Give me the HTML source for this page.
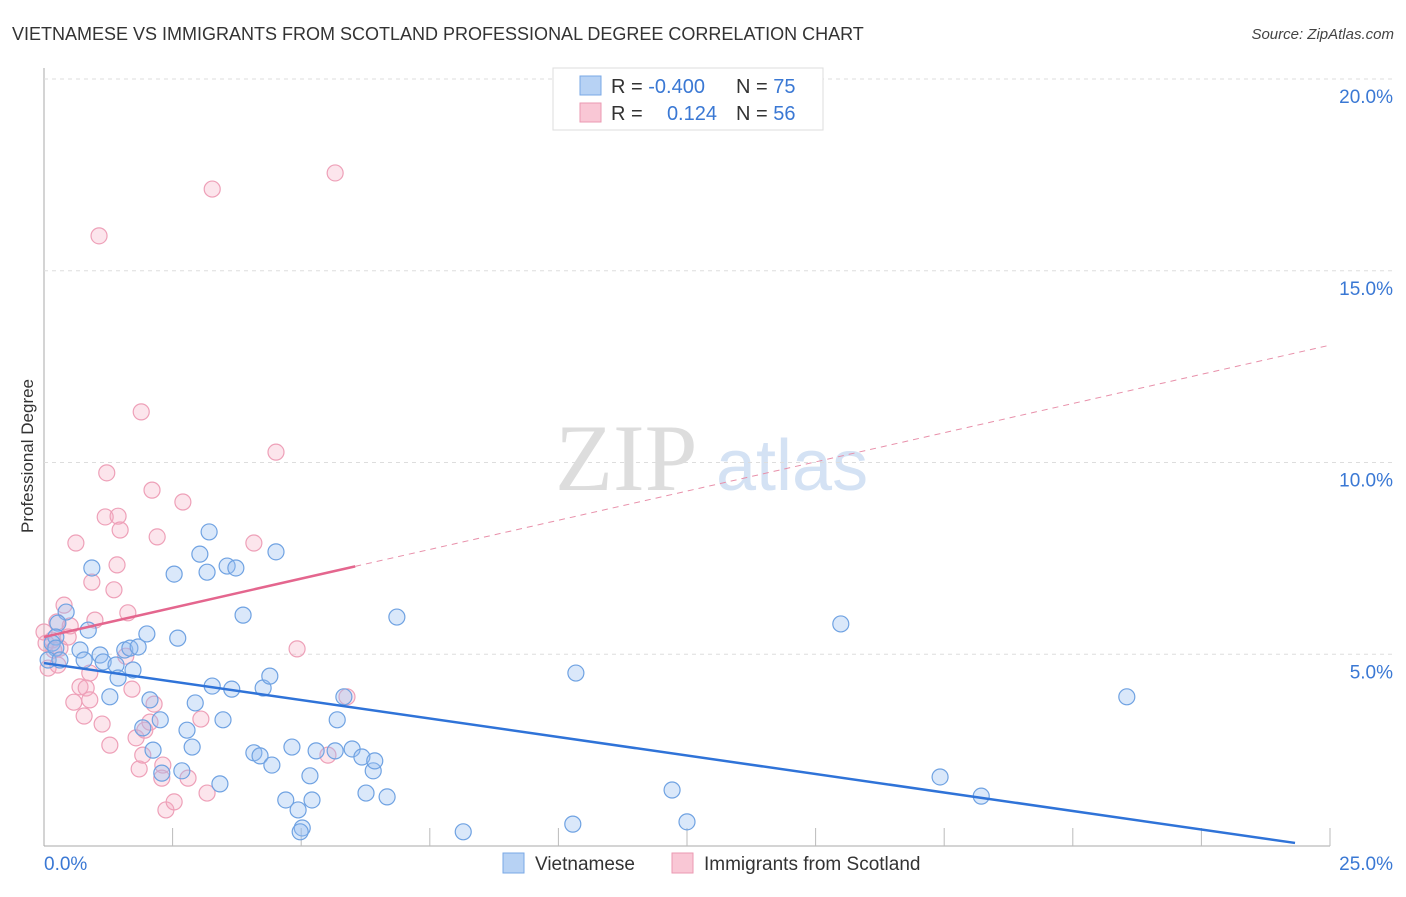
<!DOCTYPE html>
<html><head><meta charset="utf-8"><style>
body{margin:0;background:#fff;font-family:"Liberation Sans",sans-serif}
</style></head><body>
<svg id="c" width="1406" height="892" xmlns="http://www.w3.org/2000/svg" font-family="Liberation Sans, sans-serif">
<text x="12" y="40" font-size="18" fill="#333">VIETNAMESE VS IMMIGRANTS FROM SCOTLAND PROFESSIONAL DEGREE CORRELATION CHART</text>
<text x="1394" y="39" font-size="15" fill="#444" text-anchor="end" font-style="italic">Source: ZipAtlas.com</text>
<text transform="translate(33,456) rotate(-90)" font-size="17" fill="#333" text-anchor="middle">Professional Degree</text>
<g><text x="555" y="490" font-size="95" fill="#ddd" font-family="Liberation Serif, serif">ZIP</text><text x="716" y="490" font-size="72" fill="#d4e2f4">atlas</text></g>
<g id="grid"></g><g id="marks"></g>
<g>
<rect x="553" y="68" width="270" height="62" fill="#fff" stroke="#ddd"/>
<rect x="580" y="76" width="21" height="19" fill="#b7d2f4" stroke="#7aa8e6"/>
<rect x="580" y="103" width="21" height="19" fill="#f9c7d5" stroke="#eb9ab2"/>
<text x="611" y="93" font-size="20" fill="#333">R = <tspan fill="#3a78d4">-0.400</tspan></text>
<text x="736" y="93" font-size="20" fill="#333">N = <tspan fill="#3a78d4">75</tspan></text>
<text x="611" y="120" font-size="20" fill="#333">R = </text><text x="717" y="120" font-size="20" fill="#3a78d4" text-anchor="end">0.124</text>
<text x="736" y="120" font-size="20" fill="#333">N = <tspan fill="#3a78d4">56</tspan></text>
</g>
<g>
<rect x="503" y="853" width="21" height="20" fill="#b7d2f4" stroke="#7aa8e6"/>
<text x="535" y="870" font-size="19" fill="#333">Vietnamese</text>
<rect x="672" y="853" width="21" height="20" fill="#f9c7d5" stroke="#eb9ab2"/>
<text x="704" y="870" font-size="19" fill="#333">Immigrants from Scotland</text>
</g>
</svg>
<script>
const xTicks=[0,2.5,5,7.5,10,12.5,15,17.5,20,22.5,25];
const yTicks=[5,10,15,20];
const yTickLabels=["5.0%","10.0%","15.0%","20.0%"];
const blueX=[0.43,0.27,0.23,0.16,0.23,0.86,0.93,0.70,0.78,1.09,1.15,1.28,1.40,1.44,1.57,1.67,1.73,1.83,2.00,2.06,2.12,1.92,2.26,2.29,2.60,2.53,2.68,2.78,2.88,2.94,3.03,3.17,3.21,3.27,3.42,3.48,3.56,3.73,3.65,3.87,4.08,4.20,4.26,4.39,4.43,4.51,4.70,4.82,4.94,5.02,5.17,5.21,5.29,5.70,5.83,5.66,5.99,6.18,6.26,6.40,6.43,6.67,6.86,8.15,10.34,10.28,12.21,12.50,15.49,17.42,18.22,21.05,4.98,0.08,0.31];
const blueY=[6.10,5.81,5.45,5.29,5.16,5.63,7.25,5.11,4.85,4.98,4.80,3.89,4.72,4.38,5.11,5.16,4.59,5.19,5.53,3.81,2.50,3.08,3.29,1.90,5.42,7.09,1.96,3.02,2.58,3.73,7.61,7.14,8.19,4.17,1.62,3.29,7.30,7.25,4.09,6.02,2.43,2.35,4.12,4.43,2.11,7.67,1.20,2.58,0.94,0.47,1.83,1.20,2.48,3.29,3.89,2.48,2.53,2.32,1.38,1.96,2.22,1.28,5.97,0.37,4.51,0.57,1.46,0.63,5.79,1.80,1.30,3.89,0.37,4.85,4.85];
const pinkX=[0.08,0.16,0.25,0.39,0.31,0.47,0.51,0.58,0.62,0.70,0.78,0.82,0.89,0.93,0.99,1.07,1.13,1.19,1.22,1.28,1.36,1.42,1.44,1.48,1.59,1.63,1.71,1.79,1.85,1.89,1.92,1.96,2.06,2.10,2.14,2.20,2.29,2.31,2.37,2.53,2.70,2.80,3.05,3.17,3.27,4.08,4.51,4.92,5.52,5.66,5.89,0.00,0.04,0.19,0.27,0.89];
const pinkY=[4.64,5.37,5.84,6.28,5.16,5.45,5.74,3.75,7.90,4.15,3.39,4.12,4.51,6.88,5.89,15.91,3.18,8.58,9.73,2.63,6.68,7.33,8.60,8.24,4.95,6.08,4.09,2.82,2.01,11.32,2.37,3.02,3.23,9.28,3.70,8.06,1.77,2.11,0.94,1.15,8.97,1.77,3.31,1.38,17.13,7.90,10.27,5.14,2.37,17.55,3.89,5.58,5.29,5.11,4.72,3.81];
const blueTrend=[4.77,0.08], blueTrendX=[0,24.32];
const pinkTrend=[5.45,13.06], pinkSolidEnd=6.05;
const NS="http://www.w3.org/2000/svg";
const X=v=>44+v*51.44, Y=v=>846-v*38.35;
const grid=document.getElementById('grid'), marks=document.getElementById('marks');
function mk(p,tag,a){const e=document.createElementNS(NS,tag);for(const k in a)e.setAttribute(k,a[k]);p.appendChild(e);return e;}
let ax=mk(grid,'line',{x1:44,y1:68,x2:44,y2:846,stroke:'#aaa'});


let bx=mk(grid,'line',{x1:44,y1:846,x2:1330,y2:846,stroke:'#aaa'});


yTicks.forEach((t,i)=>{
 const g=mk(grid,'line',{x1:44,y1:Y(t),x2:1394,y2:Y(t),stroke:'#ddd','stroke-dasharray':'4,4'});
 
 
 const l=mk(grid,'text',{x:1393,y:Y(t)+24,'font-size':19,fill:'#3a78d4','text-anchor':'end'});l.textContent=yTickLabels[i];
 
 
});
xTicks.forEach((t,i)=>{if(i==0)return;
 const g=mk(grid,'line',{x1:X(t),y1:828,x2:X(t),y2:846,stroke:'#bbb'});
 
 
});
let l0=mk(grid,'text',{x:44,y:870,'font-size':19,fill:'#3a78d4'});l0.textContent='0.0%';


let l1=mk(grid,'text',{x:1393,y:870,'font-size':19,fill:'#3a78d4','text-anchor':'end'});l1.textContent='25.0%';


pinkX.forEach((x,i)=>{const c=mk(marks,'circle',{cx:X(x),cy:Y(pinkY[i]),r:8,fill:'rgba(244,170,192,0.3)',stroke:'#eea0b8','stroke-width':1.2});
 
 });
blueX.forEach((x,i)=>{const c=mk(marks,'circle',{cx:X(x),cy:Y(blueY[i]),r:8,fill:'rgba(150,190,240,0.35)',stroke:'#6fa2e2','stroke-width':1.2});
 
 });
const py=x=>pinkTrend[0]+(pinkTrend[1]-pinkTrend[0])*x/25;
let pd=mk(marks,'line',{x1:X(pinkSolidEnd),y1:Y(py(pinkSolidEnd)),x2:X(25),y2:Y(pinkTrend[1]),stroke:'#e890aa','stroke-width':1,'stroke-dasharray':'6,5'});


let ps=mk(marks,'line',{x1:X(0),y1:Y(pinkTrend[0]),x2:X(pinkSolidEnd),y2:Y(py(pinkSolidEnd)),stroke:'#e4668e','stroke-width':2.5});


let bt=mk(marks,'line',{x1:X(blueTrendX[0]),y1:Y(blueTrend[0]),x2:X(blueTrendX[1]),y2:Y(blueTrend[1]),stroke:'#2f73d8','stroke-width':2.5});


</script>
</body></html>
